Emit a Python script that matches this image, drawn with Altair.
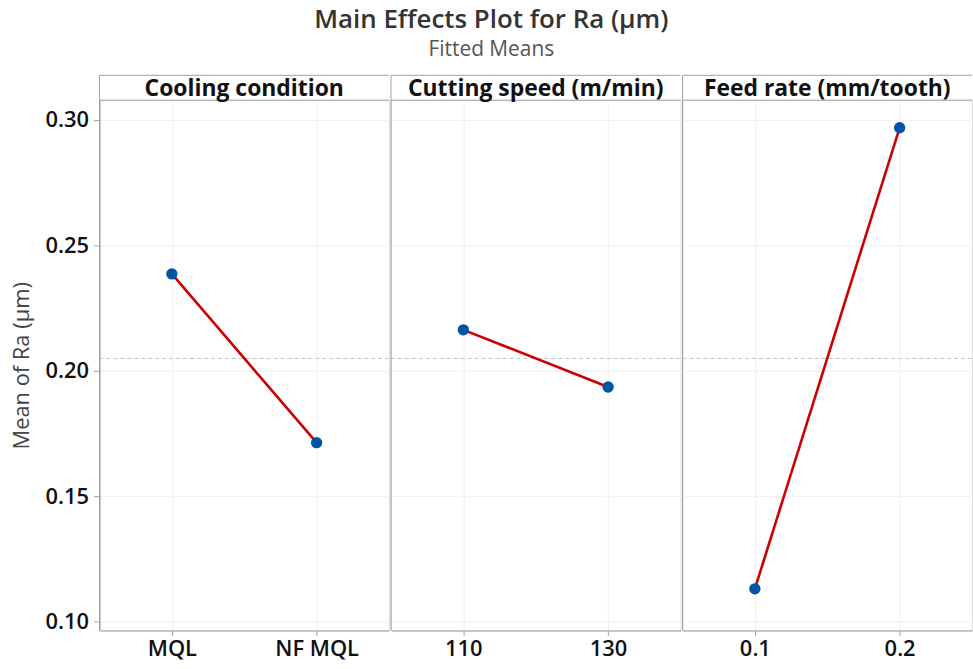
import altair as alt
import pandas as pd

panels = ["Cooling condition", "Cutting speed (m/min)", "Feed rate (mm/tooth)"]
levels = [["MQL", "NF MQL"], ["110", "130"], ["0.1", "0.2"]]
means = [[0.2386, 0.1713], [0.2163, 0.1935], [0.1130, 0.2969]]
grand_mean = 0.2049
y_ticks = [0.10, 0.15, 0.20, 0.25, 0.30]
y_domain = [0.0964, 0.3079]

W = 291
H = 533
HEAD = 25
FONT = "Open Sans"
BORDER = "#a0a0a0"


def panel(i):
    df = pd.DataFrame({"level": levels[i], "mean": means[i]})
    dummy = pd.DataFrame({"d": [0]})
    x_enc = alt.X(
        "level:N",
        sort=levels[i],
        title=None,
        axis=alt.Axis(
            labelAngle=0, ticks=True, tickSize=5, tickColor=BORDER, grid=True,
            gridColor="#f0f0f0", domainColor=BORDER, labelFontSize=22,
            labelFontWeight=600, labelColor="#111111", labelFont=FONT,
            labelPadding=3,
        ),
    )
    if i == 0:
        y_axis = alt.Axis(
            values=y_ticks, format=".2f", grid=True, gridColor="#f0f0f0",
            domainColor=BORDER, tickColor=BORDER, tickSize=6,
            labelFontSize=22, labelFontWeight=600, labelColor="#111111",
            labelFont=FONT, labelPadding=5, title="Mean of Ra (µm)",
            titleFont=FONT, titleFontSize=22, titleFontWeight="normal",
            titleColor="#444444", titlePadding=12,
        )
    else:
        y_axis = alt.Axis(
            values=y_ticks, grid=True, gridColor="#f0f0f0", labels=False,
            ticks=False, domain=False, title=None,
        )
    y_enc = alt.Y("mean:Q", scale=alt.Scale(domain=y_domain, nice=False, zero=False), axis=y_axis)

    base = alt.Chart(df).encode(x=x_enc, y=y_enc)
    line = base.mark_line(color="#cc0000", strokeWidth=2.6)
    pts = base.mark_circle(color="#0054a6", size=130, opacity=1)
    ref = alt.Chart(pd.DataFrame({"m": [grand_mean]})).mark_rule(
        color="#c4c4c4", strokeDash=[4, 3], strokeWidth=1
    ).encode(y="m:Q")
    top_rule = alt.Chart(dummy).mark_rule(color=BORDER, strokeWidth=1).encode(
        x=alt.value(0), x2=alt.value(W), y=alt.value(-HEAD))
    mid_rule = alt.Chart(dummy).mark_rule(color=BORDER, strokeWidth=1).encode(
        x=alt.value(0), x2=alt.value(W), y=alt.value(0))
    left_rule = alt.Chart(dummy).mark_rule(color=BORDER, strokeWidth=1).encode(
        x=alt.value(0), y=alt.value(-HEAD), y2=alt.value(H))
    head = alt.Chart(dummy).mark_text(
        text=panels[i], font=FONT, fontSize=23, fontWeight="bold", color="#111111",
        baseline="middle", align="center",
    ).encode(x=alt.value(W / 2), y=alt.value(-HEAD / 2 + 1))
    return alt.layer(ref, line, pts, top_rule, mid_rule, left_rule, head).properties(width=W, height=H)


chart = alt.hconcat(panel(0), panel(1), panel(2), spacing=0).resolve_scale(
    x="independent", y="independent"
).properties(
    title=alt.TitleParams(
        "Main Effects Plot for Ra (µm)", subtitle="Fitted Means", anchor="middle",
        font=FONT, fontSize=26, fontWeight=600, color="#333333",
        subtitleFont=FONT, subtitleFontSize=21, subtitleColor="#555555",
        subtitlePadding=7, offset=14,
    ),
    padding={"left": 9, "top": 5, "right": 0, "bottom": 0},
).configure_view(stroke=None).configure(background="white")

chart.save("out.html", embed_options={"renderer": "svg", "actions": False})
